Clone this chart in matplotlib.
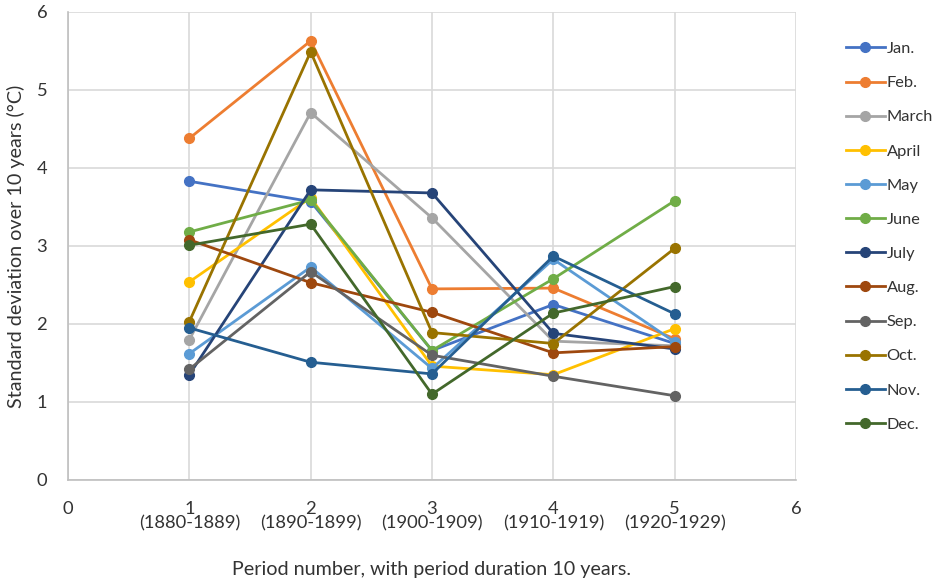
import matplotlib
matplotlib.use("Agg")
import matplotlib.pyplot as plt

# period numbers and their decade labels
periods = [1, 2, 3, 4, 5]
decades = ["(1880-1889)", "(1890-1899)", "(1900-1909)", "(1910-1919)", "(1920-1929)"]

months = ["Jan.", "Feb.", "March", "April", "May", "June",
          "July", "Aug.", "Sep.", "Oct.", "Nov.", "Dec."]

# standard deviation per month and period
jan = [3.83, 3.57, 1.66, 2.25, 1.75]
feb = [4.38, 5.63, 2.45, 2.46, 1.81]
march = [1.80, 4.71, 3.36, 1.78, 1.72]
april = [2.54, 3.62, 1.46, 1.35, 1.94]
may = [1.62, 2.73, 1.43, 2.83, 1.77]
june = [3.18, 3.59, 1.66, 2.58, 3.58]
july = [1.35, 3.72, 3.68, 1.88, 1.68]
aug = [3.08, 2.53, 2.15, 1.63, 1.71]
sep = [1.42, 2.67, 1.60, 1.33, 1.08]
octo = [2.03, 5.49, 1.89, 1.75, 2.97]
nov = [1.95, 1.51, 1.36, 2.87, 2.13]
dec = [3.01, 3.28, 1.10, 2.14, 2.48]

series = [jan, feb, march, april, may, june, july, aug, sep, octo, nov, dec]
colors = ["#4472C4", "#ED7D31", "#A5A5A5", "#FFC000", "#5B9BD5", "#70AD47",
          "#264478", "#9E480E", "#636363", "#997300", "#255E91", "#43682B"]

plt.rcParams['font.family'] = ['Lato', 'DejaVu Sans']

fig = plt.figure(figsize=(9.36, 5.83), dpi=100)
ax = fig.add_axes([68 / 936, 1 - 480 / 583, (796 - 68) / 936, (480 - 12) / 583])

for vals, name, c in zip(series, months, colors):
    ax.plot(periods, vals, color=c, lw=2, marker='o', ms=7, label=name)

ax.set_xlim(0, 6)
ax.set_ylim(0, 6)
ax.set_xticks(range(0, 7))
ax.set_xticklabels(["0"] + [f"{p}\n{d}" for p, d in zip(periods, decades)] + ["6"],
                   fontsize=13.2, color="#333333", linespacing=0.92)
ax.set_yticks(range(0, 7))
ax.tick_params(axis='y', labelsize=13.2, labelcolor="#333333", length=0, pad=15)
ax.tick_params(axis='x', length=0, pad=15)
ax.grid(True, color="#D9D9D9", lw=1.2)
ax.set_axisbelow(True)
for s in ['top', 'right']:
    ax.spines[s].set_visible(False)
for s in ['left', 'bottom']:
    ax.spines[s].set_color("#BFBFBF")
    ax.spines[s].set_linewidth(1.2)

ax.set_xlabel("Period number, with period duration 10 years.", fontsize=14.2,
              color="#333333", labelpad=21)
ax.set_ylabel("Standard deviation over 10 years (°C)", fontsize=14.2,
              color="#333333", labelpad=8)

leg = fig.legend(loc='upper left', bbox_to_anchor=(831 / 936, 1 - 27 / 583),
                 frameon=False, fontsize=11.8, handlelength=2.4, handletextpad=0.1,
                 labelspacing=1.2, labelcolor="#333333")

fig.savefig("out.png", dpi=100)
